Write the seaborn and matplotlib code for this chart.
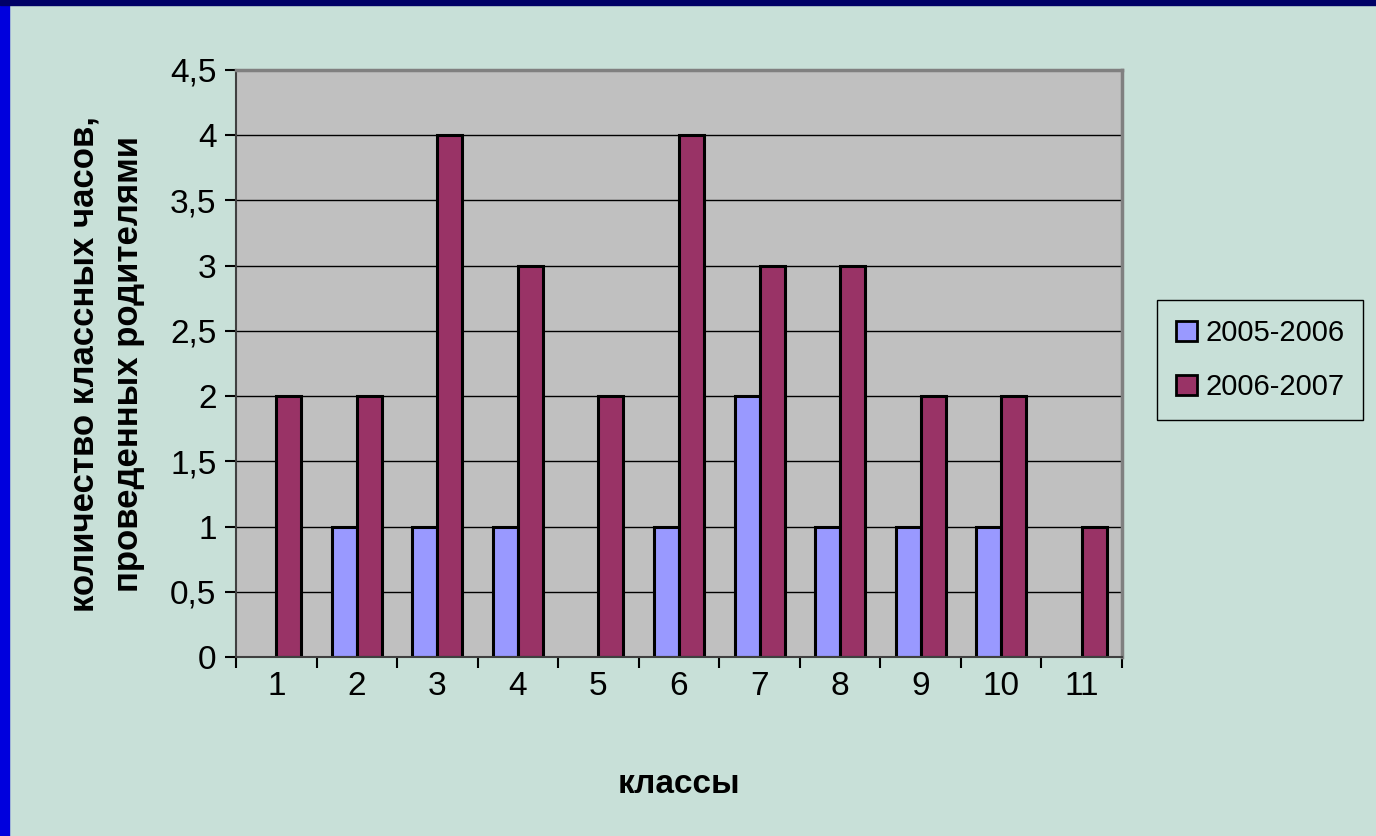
import pandas as pd
import seaborn as sns
import matplotlib.pyplot as plt
from matplotlib.patches import Rectangle

classes = ['1', '2', '3', '4', '5', '6', '7', '8', '9', '10', '11']
y2005 = [0, 1, 1, 1, 0, 1, 2, 1, 1, 1, 0]
y2006 = [2, 2, 4, 3, 2, 4, 3, 3, 2, 2, 1]
series = ['2005-2006', '2006-2007']
colors = {'2005-2006': '#9999FF', '2006-2007': '#993366'}
yticks = [0, 0.5, 1, 1.5, 2, 2.5, 3, 3.5, 4, 4.5]

df = pd.DataFrame({
    'класс': classes * 2,
    'год': [series[0]] * len(classes) + [series[1]] * len(classes),
    'часы': y2005 + y2006,
})

sns.set_style('white')
plt.rcParams['font.family'] = ['Liberation Sans', 'DejaVu Sans']
plt.rcParams['text.color'] = 'black'
plt.rcParams['xtick.color'] = 'black'
plt.rcParams['ytick.color'] = 'black'
plt.rcParams['axes.labelcolor'] = 'black'

bg = '#C8E0D8'
fig = plt.figure(figsize=(13.76, 8.36), dpi=100, facecolor=bg)
ax = fig.add_axes([0.1715, 0.214, 0.6439, 0.7023])
ax.set_facecolor('#C0C0C0')

# blue slide frame
fig.patches.append(Rectangle((0, 0), 0.0065, 1, transform=fig.transFigure, color='#0000DD', zorder=0))
fig.patches.append(Rectangle((0, 0.994), 1, 0.006, transform=fig.transFigure, color='#000066', zorder=0))

ax.set_axisbelow(True)
ax.yaxis.grid(True, color='black', linewidth=1)
sns.barplot(data=df, x='класс', y='часы', hue='год', palette=colors, width=0.62,
            edgecolor='black', linewidth=2.2, ax=ax, legend=False, saturation=1)
for p in ax.patches:
    if p.get_height() == 0:
        p.set_visible(False)

ax.set_ylim(0, 4.5)
ax.set_xlim(-0.5, len(classes) - 0.5)
ax.set_yticks(yticks)
ax.set_yticklabels([str(v).replace('.', ',') if v % 1 else str(int(v)) for v in yticks], fontsize=24)

ax.set_xticks([i - 0.5 for i in range(len(classes) + 1)])
ax.set_xticklabels([])
ax.set_xticks(range(len(classes)), minor=True)
ax.set_xticklabels(classes, minor=True, fontsize=24)
ax.tick_params(axis='x', which='major', direction='out', length=8, width=1.5, color='black', bottom=True)
ax.tick_params(axis='x', which='minor', length=0, pad=10)
ax.tick_params(axis='y', direction='out', length=8, width=1.5, color='black', left=True, pad=6)

for s in ['top', 'right']:
    ax.spines[s].set_color('#808080')
    ax.spines[s].set_linewidth(2.5)
for s in ['left', 'bottom']:
    ax.spines[s].set_color('#404040')
    ax.spines[s].set_linewidth(1.5)

ax.set_xlabel('классы', fontsize=24, fontweight='bold', labelpad=48)
ax.set_ylabel('количество классных часов,\nпроведенных родителями', fontsize=25,
              fontweight='bold', labelpad=18, linespacing=1.45)

handles = [Rectangle((0, 0), 1, 1, facecolor=colors[s], edgecolor='black', linewidth=2) for s in series]
leg = fig.legend(handles, series, loc='upper left', bbox_to_anchor=(0.841, 0.641), fontsize=21,
                 frameon=True, fancybox=False, edgecolor='black', facecolor=bg, framealpha=1,
                 handlelength=0.7, handleheight=0.7, handletextpad=0.3, labelspacing=0.9,
                 borderpad=0.65, borderaxespad=0)
leg.get_frame().set_linewidth(1)

fig.savefig('out.png', dpi=100, facecolor=bg)
